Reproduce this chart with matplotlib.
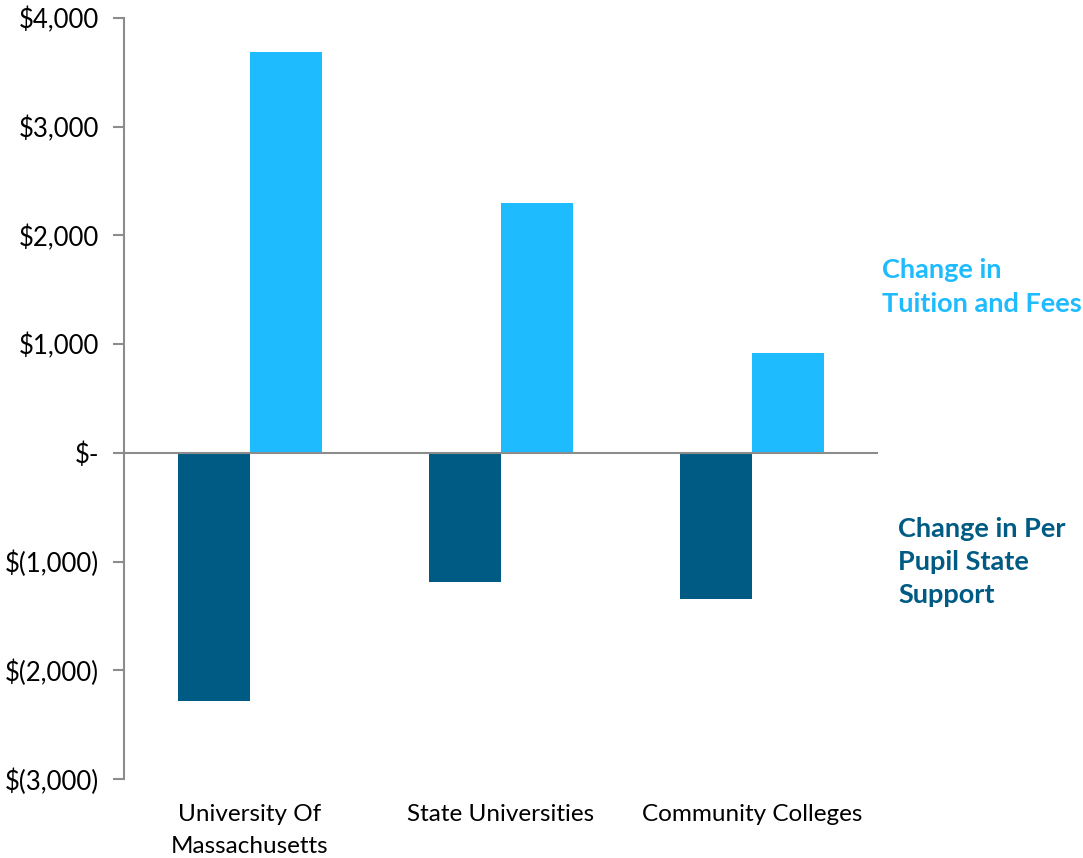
import numpy as np
import matplotlib.pyplot as plt

plt.rcParams['font.family'] = ['Lato', 'DejaVu Sans']

categories = ['University Of\nMassachusetts', 'State Universities', 'Community Colleges']
state_support = [-2280, -1190, -1340]
tuition_fees = [3690, 2300, 920]
y_ticks = [-3000, -2000, -1000, 0, 1000, 2000, 3000, 4000]

dark = '#005B84'
light = '#1FBBFF'
grey = '#8C8C8C'


def money(v):
    if v == 0:
        return '$-'
    if v < 0:
        return '$({:,})'.format(-v)
    return '${:,}'.format(v)


fig = plt.figure(figsize=(10.83, 8.58), dpi=100)
ax = fig.add_axes([0.1145, 0.092, 0.6962, 0.887])

x = np.arange(len(categories))
w = 0.287
ax.bar(x - w / 2, state_support, w, color=dark, zorder=2)
ax.bar(x + w / 2, tuition_fees, w, color=light, zorder=2)

ax.axhline(0, color=grey, lw=1.5, zorder=3)
ax.set_xlim(-0.5, 2.5)
ax.set_ylim(-3000, 4000)
ax.set_yticks(y_ticks)
ax.set_yticklabels([money(v) for v in y_ticks], fontsize=18.5)
ax.set_xticks(x)
ax.set_xticklabels(categories, fontsize=17.5, linespacing=1.62)
ax.tick_params(axis='x', length=0, pad=18)
ax.tick_params(axis='y', length=8, width=1.5, color=grey, pad=10)

for s in ['top', 'right', 'bottom']:
    ax.spines[s].set_visible(False)
ax.spines['left'].set_color(grey)
ax.spines['left'].set_linewidth(1.5)

# series labels to the right of the plot
fig.text(882 / 1083, 1 - 287 / 858, 'Change in\nTuition and Fees', color=light,
         fontsize=19.5, fontweight='bold', va='center', ha='left', linespacing=1.47)
fig.text(898 / 1083, 1 - 562 / 858, 'Change in Per\nPupil State\nSupport', color=dark,
         fontsize=19.5, fontweight='bold', va='center', ha='left', linespacing=1.47)

fig.savefig('out.png', dpi=100)
